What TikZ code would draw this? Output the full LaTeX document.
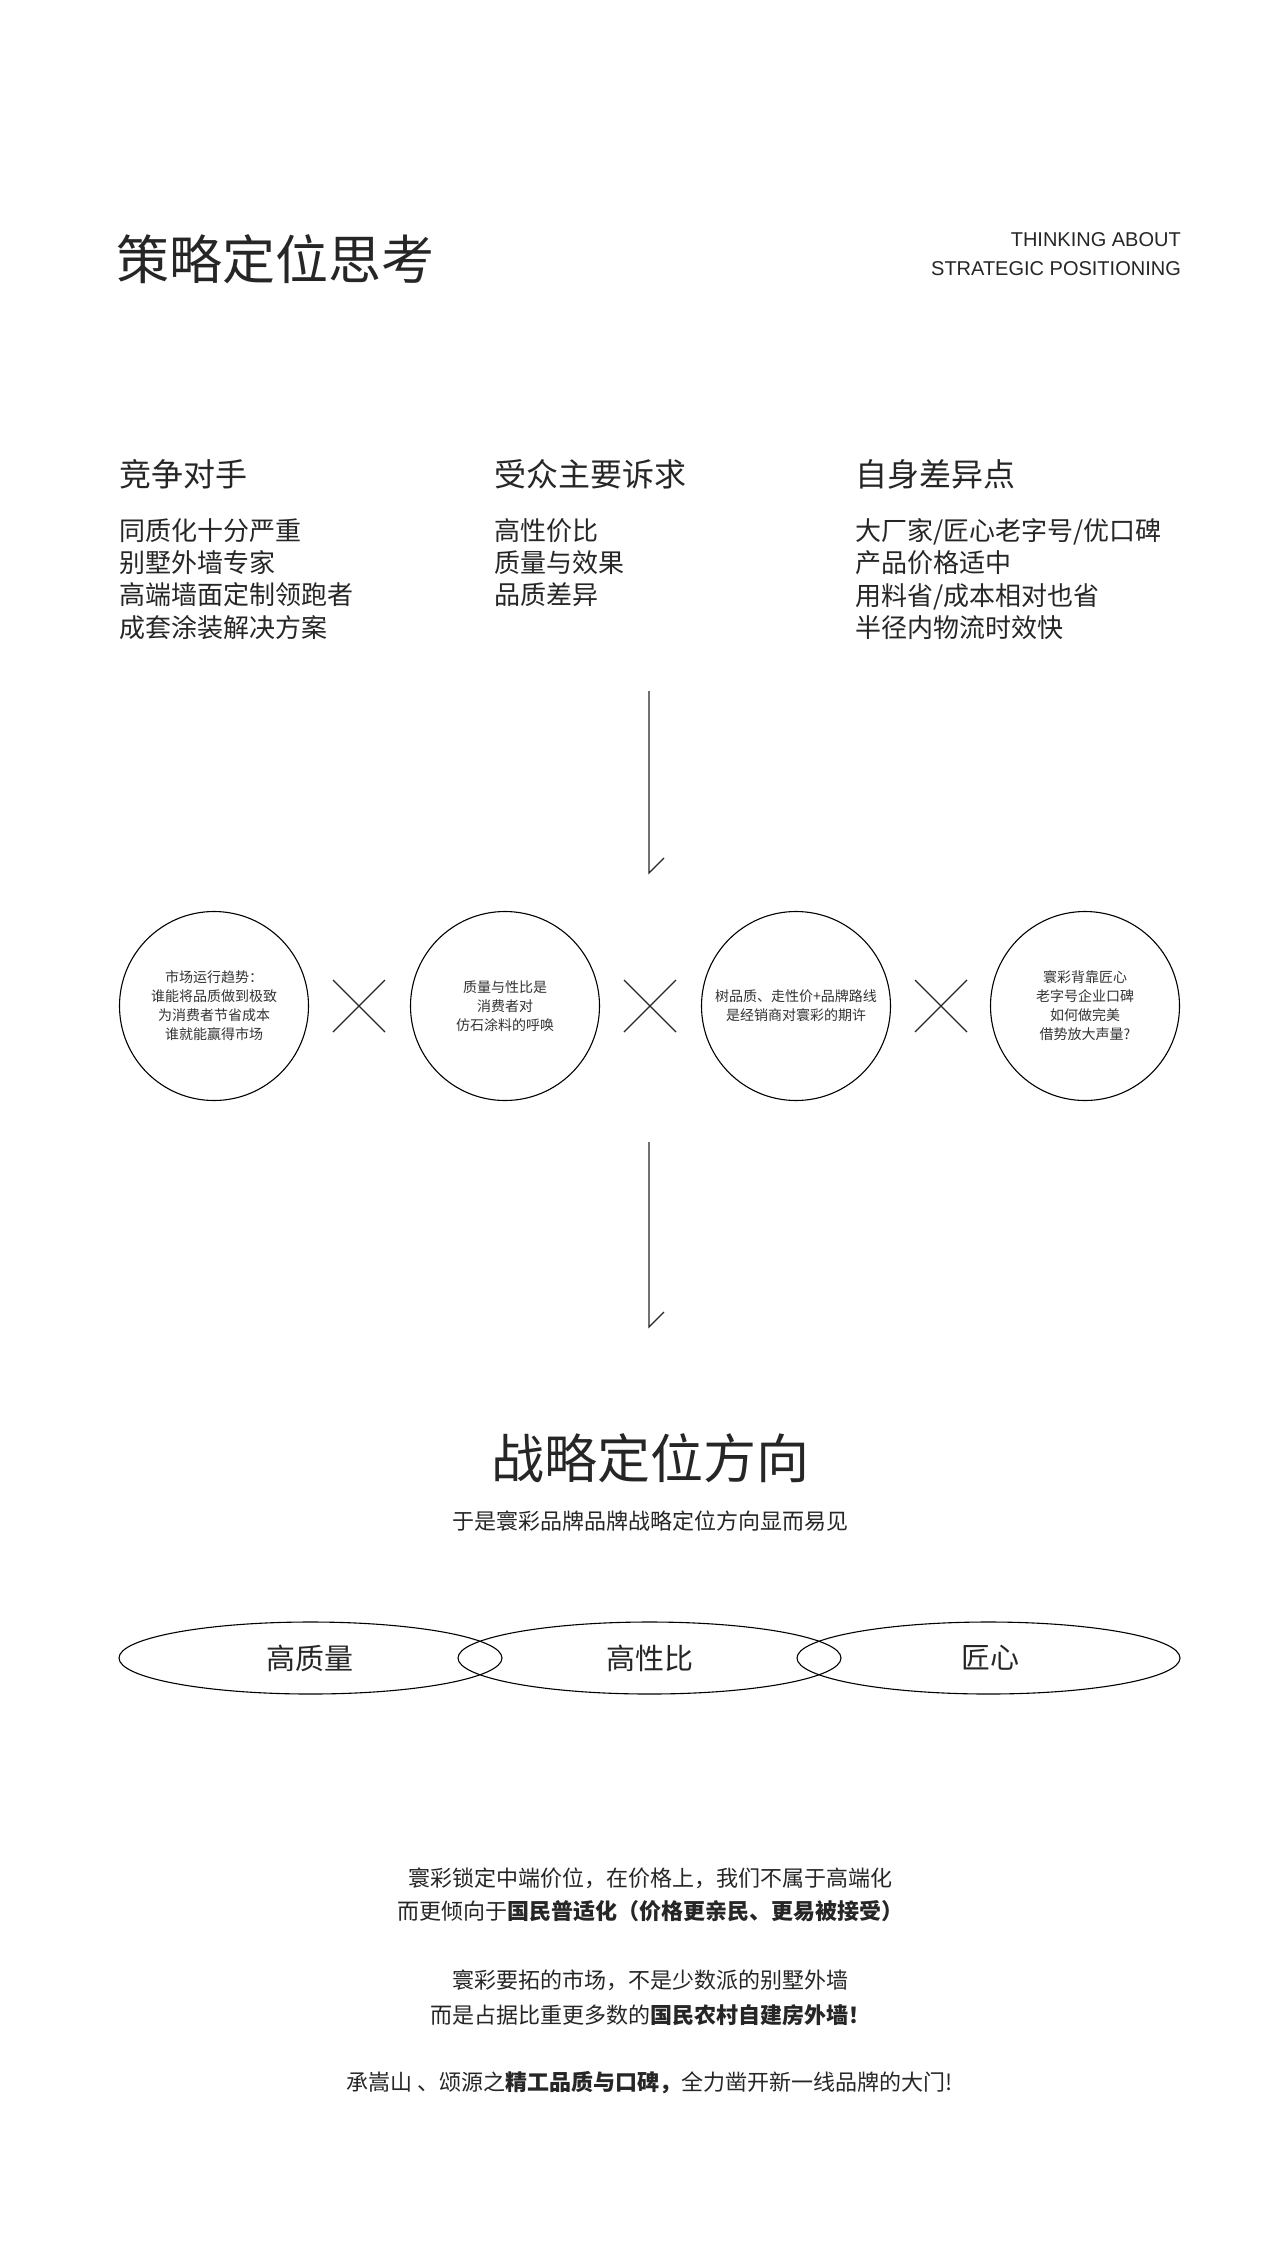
\documentclass[tikz,border=0pt]{standalone}
\usepackage{fontspec}
\usetikzlibrary{shapes.geometric}
\setmainfont{Noto Sans CJK SC}
\newfontfamily\latinsf{Liberation Sans}
\begin{document}
\begin{tikzpicture}[x=1pt,y=-1pt,
  txt/.style={inner sep=0pt,text=black!85},
  ln/.style={line width=1.1pt,black!85},
  circ/.style={draw,circle,line width=1.1pt,minimum size=189pt,inner sep=0pt,align=center,font=\fontsize{14}{19}\selectfont,text=black!80},
  ell/.style={draw,ellipse,line width=1.1pt,minimum width=383pt,minimum height=72pt,inner sep=0pt},
  lab/.style={inner sep=0pt,font=\fontsize{29}{34}\selectfont,text=black!85},
  head/.style={txt,anchor=west,font=\fontsize{32}{36}\selectfont},
  list/.style={txt,anchor=north west,align=left,font=\fontsize{26}{32.4}\selectfont},
  body/.style={txt,font=\fontsize{22}{26}\selectfont}]
\useasboundingbox (0,0) rectangle (1280,2245);
\fill[white] (0,0) rectangle (1280,2245);
\node[txt,anchor=west,font=\fontsize{53}{60}\selectfont] (title) at (116,259) {策略定位思考};
\node[txt,anchor=east,align=right,font=\latinsf\fontsize{20}{29}\selectfont] (eng) at (1181,254) {THINKING ABOUT\\STRATEGIC POSITIONING};
\node[head] (h1) at (119,474) {竞争对手};
\node[head] (h2) at (494,474) {受众主要诉求};
\node[head] (h3) at (855,474) {自身差异点};
\node[list] (l1) at (119,518) {同质化十分严重\\别墅外墙专家\\高端墙面定制领跑者\\成套涂装解决方案};
\node[list] (l2) at (494,518) {高性价比\\质量与效果\\品质差异};
\node[list] (l3) at (855,518) {大厂家/匠心老字号/优口碑\\产品价格适中\\用料省/成本相对也省\\半径内物流时效快};
\coordinate (a1s) at (649,691);
\coordinate (a1e) at (649,873);
\coordinate (a1h) at (664,858);
\draw[ln] (a1s) -- (a1e) -- (a1h);
\node[circ] (c1) at (214,1006) {市场运行趋势：\\谁能将品质做到极致\\为消费者节省成本\\谁就能赢得市场};
\node[circ] (c2) at (505,1006) {质量与性比是\\消费者对\\仿石涂料的呼唤};
\node[circ] (c3) at (796,1006) {树品质、走性价+品牌路线\\是经销商对寰彩的期许};
\node[circ] (c4) at (1085,1006) {寰彩背靠匠心\\老字号企业口碑\\如何做完美\\借势放大声量?};
\foreach \cx/\n in {359/x1,650/x2,941/x3}{
  \coordinate (\n a) at (\cx-26,980); \coordinate (\n b) at (\cx+26,1032);
  \coordinate (\n c) at (\cx-26,1032); \coordinate (\n d) at (\cx+26,980);
  \draw[ln] (\n a) -- (\n b); \draw[ln] (\n c) -- (\n d);}
\coordinate (a2s) at (649,1142);
\coordinate (a2e) at (649,1327);
\coordinate (a2h) at (664,1312);
\draw[ln] (a2s) -- (a2e) -- (a2h);
\node[txt,font=\fontsize{53}{60}\selectfont] (t2) at (650,1458) {战略定位方向};
\node[body] (sub) at (650,1521) {于是寰彩品牌品牌战略定位方向显而易见};
\node[ell] (e1) at (310.5,1658) {};
\node[ell] (e2) at (649.5,1658) {};
\node[ell] (e3) at (988.5,1658) {};
\node[lab] at (310,1658) {高质量};
\node[lab] at (650,1658) {高性比};
\node[lab] at (990,1658) {匠心};
\node[body] (b1) at (650,1878) {寰彩锁定中端价位，在价格上，我们不属于高端化};
\node[body] (b2) at (650,1911) {而更倾向于\textbf{国民普适化（价格更亲民、更易被接受）}};
\node[body] (b3) at (650,1980) {寰彩要拓的市场，不是少数派的别墅外墙};
\node[body] (b4) at (650,2015) {而是占据比重更多数的\textbf{国民农村自建房外墙！}};
\node[body] (b5) at (650,2083) {承嵩山 、颂源之\textbf{精工品质与口碑，}全力凿开新一线品牌的大门!};
\end{tikzpicture}
\end{document}
